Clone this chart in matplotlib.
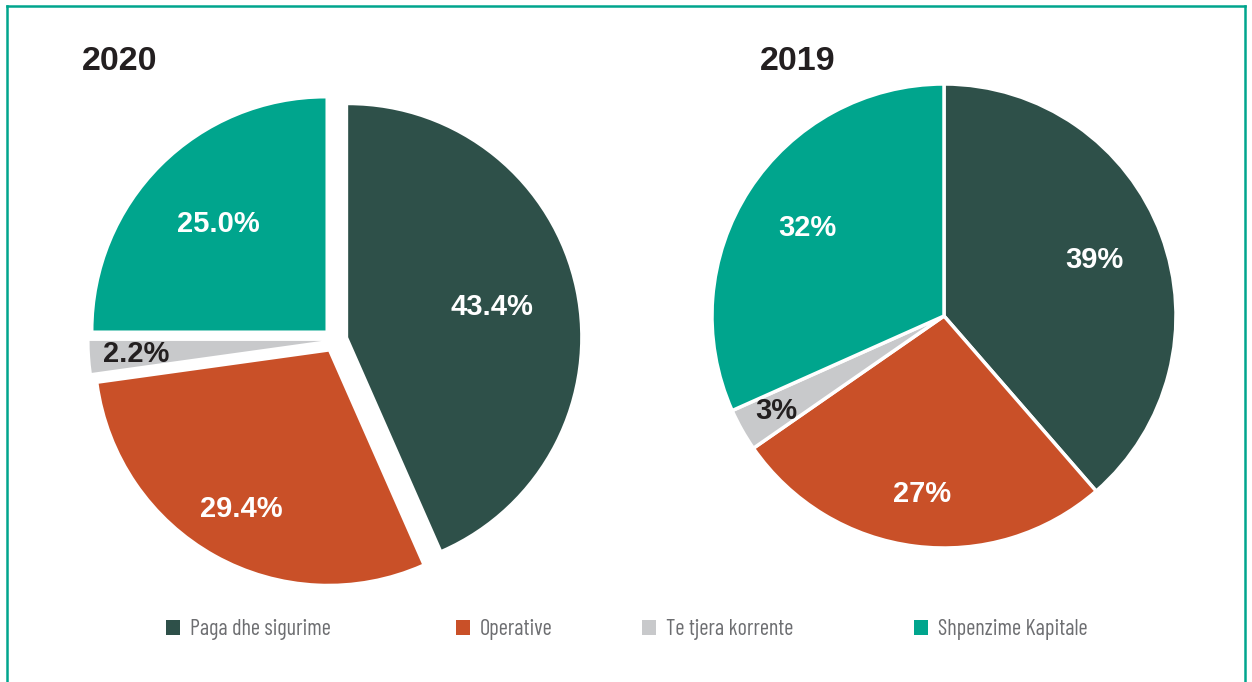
import matplotlib
matplotlib.use("Agg")
import matplotlib.pyplot as plt
import numpy as np
from matplotlib.lines import Line2D

categories = ["Paga dhe sigurime", "Operative", "Te tjera korrente", "Shpenzime Kapitale"]
colors = ["#2e5049", "#c95028", "#c8c9cb", "#00a58d"]
values_2020 = [43.4, 29.4, 2.2, 25.0]
values_2019 = [39, 27, 3, 32]
labels_2020 = ["43.4%", "29.4%", "2.2%", "25.0%"]
labels_2019 = ["39%", "27%", "3%", "32%"]

title_font = ["Liberation Sans", "DejaVu Sans"]
legend_font = ["Barlow Condensed", "DejaVu Sans"]
label_colors = ["white", "white", "#231f20", "white"]

fig = plt.figure(figsize=(12.52, 6.82), dpi=100)

# one pie radius = 232 px, axes span -1.2..1.2
ax1 = fig.add_axes([56.6 / 1252, 63.6 / 682, 556.8 / 1252, 556.8 / 682])
ax2 = fig.add_axes([665.6 / 1252, 87.6 / 682, 556.8 / 1252, 556.8 / 682])


def draw_pie(ax, values, labels, dists, explode, edge):
    wedges, _ = ax.pie(values, colors=colors, startangle=90, counterclock=False,
                       explode=explode, radius=1.0,
                       wedgeprops=dict(edgecolor="white", linewidth=edge))
    for w, lab, d, c in zip(wedges, labels, dists, label_colors):
        ang = np.deg2rad((w.theta1 + w.theta2) / 2)
        x = w.center[0] + d * w.r * np.cos(ang)
        y = w.center[1] + d * w.r * np.sin(ang)
        ax.text(x, y, lab, ha="center", va="center", color=c, fontsize=21,
                fontweight="bold", family=title_font)
    ax.set_xlim(-1.2, 1.2)
    ax.set_ylim(-1.2, 1.2)
    ax.set_aspect("equal")
    ax.axis("off")
    return wedges


wedges = draw_pie(ax1, values_2020, labels_2020, [0.635, 0.775, 0.80, 0.65],
                  [0.058] * 4, 0)
draw_pie(ax2, values_2019, labels_2019, [0.69, 0.775, 0.83, 0.70],
         [0] * 4, 2.5)
# nudge the small 2020 label down a bit, as in the source
ax1.texts[2].set_y(ax1.texts[2].get_position()[1] - 0.025)

fig.text(82 / 1252, 1 - 62 / 682, "2020", fontsize=24.5, fontweight="bold",
         color="#231f20", family=title_font, va="center", ha="left")
fig.text(760 / 1252, 1 - 62 / 682, "2019", fontsize=24.5, fontweight="bold",
         color="#231f20", family=title_font, va="center", ha="left")

# legend entries, placed one by one
leg_x = [166, 456, 642, 914]
for w, name, x in zip(wedges, categories, leg_x):
    fig.legend(handles=[w], labels=[name], loc="center left",
               bbox_to_anchor=(x / 1252, 1 - 630 / 682), frameon=False,
               borderpad=0, borderaxespad=0, handlelength=0.62, handleheight=0.62,
               handletextpad=0.45,
               prop=dict(family=legend_font, size=16), labelcolor="#6d6e71")

# teal frame
border = "#00a58d"
fig.add_artist(Line2D([7 / 1252, 7 / 1252], [0, 1 - 6 / 682], color=border,
                      lw=1.8, transform=fig.transFigure))
fig.add_artist(Line2D([7 / 1252, 1245 / 1252], [1 - 6 / 682, 1 - 6 / 682],
                      color=border, lw=1.8, transform=fig.transFigure))
fig.add_artist(Line2D([1245 / 1252, 1245 / 1252], [0, 1 - 6 / 682], color=border,
                      lw=1.8, transform=fig.transFigure))

fig.savefig("out.png", dpi=100, facecolor="white")
